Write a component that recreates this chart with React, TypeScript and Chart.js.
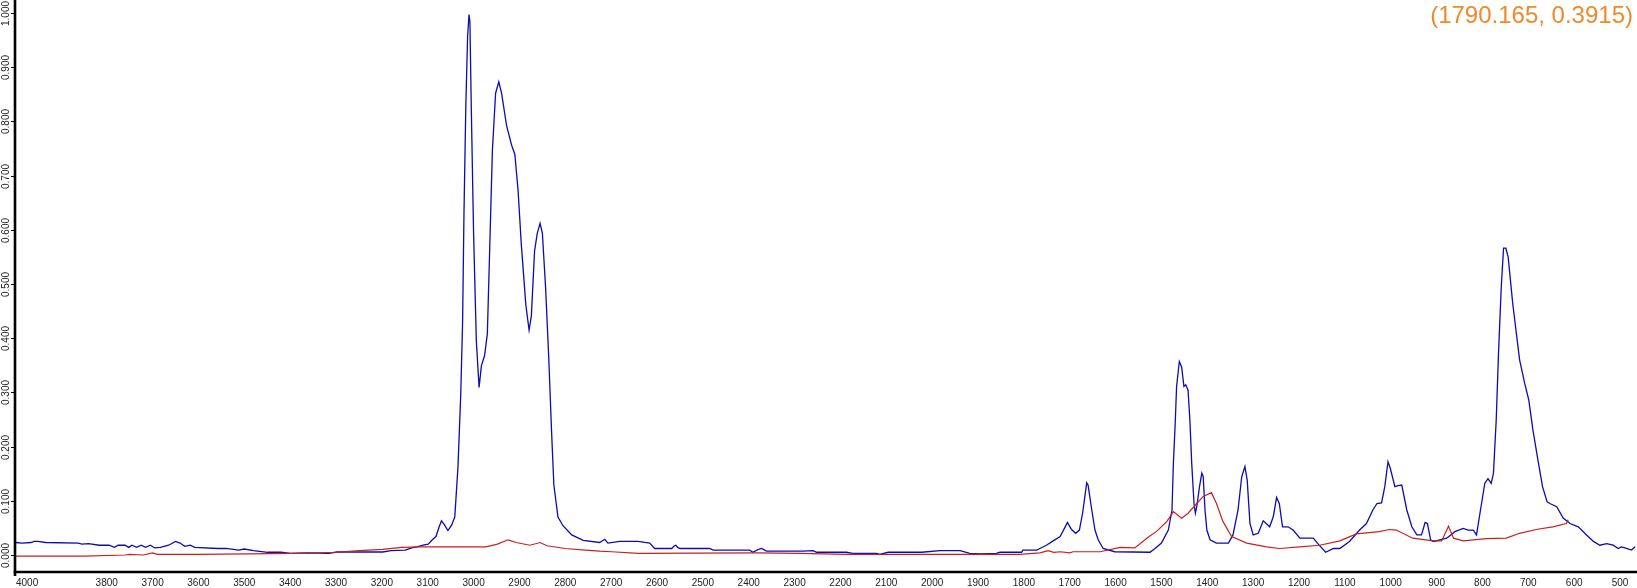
import { useEffect, useRef } from "react";
import { Chart, registerables } from "chart.js";

Chart.register(...registerables);

// Sample spectrum (blue): wavenumber (cm-1) and absorbance
const BLUE_WN = [
  3998, 3985, 3965, 3958, 3950, 3933, 3862, 3854, 3840, 3816, 3795, 3783, 3775, 3760, 3752, 3745, 3735, 3725,
  3715, 3705, 3695, 3683, 3665, 3650, 3640, 3630, 3618, 3608, 3558, 3540, 3512, 3500, 3480, 3449, 3420, 3399,
  3360, 3316, 3298, 3198, 3180, 3149, 3135, 3124, 3110, 3099, 3090, 3082, 3075, 3070, 3063, 3056, 3048, 3041,
  3034, 3028, 3024, 3021, 3017, 3013, 3010, 3008, 3005, 3000, 2994, 2988, 2983, 2976, 2970, 2965, 2959, 2952,
  2945, 2939, 2928, 2917, 2910, 2903, 2896, 2886, 2879, 2874, 2867, 2861, 2855, 2850, 2843, 2836, 2830, 2825,
  2816, 2805, 2786, 2761, 2725, 2714, 2707, 2681, 2642, 2616, 2605, 2568, 2562, 2559, 2555, 2550, 2485, 2478,
  2398, 2391, 2380, 2372, 2365, 2361, 2282, 2260, 2252, 2187, 2173, 2121, 2114, 2096, 2023, 1983, 1939, 1918,
  1895, 1860, 1852, 1805, 1802, 1772, 1765, 1751, 1736, 1721, 1711, 1705, 1696, 1687, 1679, 1672, 1663, 1660,
  1653, 1645, 1638, 1627, 1602, 1525, 1514, 1500, 1485, 1477, 1474, 1470, 1467, 1461, 1456, 1451, 1447, 1442,
  1438, 1434, 1429, 1426, 1423, 1417, 1412, 1409, 1405, 1401, 1394, 1380, 1354, 1344, 1333, 1325, 1318, 1313,
  1307, 1300, 1289, 1278, 1264, 1256, 1249, 1243, 1236, 1224, 1213, 1198, 1183, 1169, 1158, 1142, 1125, 1111,
  1090, 1068, 1053, 1039, 1030, 1020, 1013, 1006, 1001, 991, 984, 976, 965, 954, 943, 933, 925, 920, 913, 907,
  893, 878, 860, 842, 831, 820, 813, 802, 795, 788, 781, 776, 770, 765, 759, 754, 749, 744, 734, 719, 708, 699,
  690, 679, 669, 659, 653, 638, 624, 609, 591, 573, 558, 544, 529, 515, 504, 497, 486, 475, 467,
];
const BLUE_ABS = [
  0.023, 0.022, 0.023, 0.025, 0.025, 0.023, 0.022, 0.02, 0.021, 0.018, 0.018, 0.014, 0.018, 0.018, 0.014, 0.018, 0.014, 0.018,
  0.014, 0.018, 0.013, 0.014, 0.018, 0.025, 0.022, 0.016, 0.018, 0.014, 0.012, 0.012, 0.009, 0.011, 0.008, 0.005, 0.005, 0.003,
  0.004, 0.003, 0.0055, 0.0055, 0.008, 0.009, 0.013, 0.015, 0.018, 0.02, 0.028, 0.034, 0.052, 0.063, 0.055, 0.045, 0.055, 0.07,
  0.163, 0.296, 0.428, 0.627, 0.825, 0.958, 0.997, 0.984, 0.825, 0.594, 0.395, 0.309, 0.349, 0.368, 0.408, 0.56, 0.746, 0.852,
  0.873, 0.852, 0.792, 0.756, 0.739, 0.673, 0.574, 0.461, 0.415, 0.441, 0.561, 0.594, 0.612, 0.594, 0.494, 0.362, 0.229, 0.13,
  0.07, 0.054, 0.037, 0.027, 0.023, 0.029, 0.022, 0.025, 0.025, 0.022, 0.012, 0.012, 0.017, 0.018, 0.014, 0.012, 0.012, 0.009,
  0.009, 0.005, 0.01, 0.012, 0.009, 0.007, 0.007, 0.008, 0.005, 0.005, 0.003, 0.003, 0.001, 0.005, 0.005, 0.008, 0.008, 0.003,
  0.002, 0.003, 0.005, 0.005, 0.009, 0.009, 0.012, 0.018, 0.026, 0.034, 0.05, 0.06, 0.047, 0.04, 0.046, 0.077, 0.133, 0.129,
  0.089, 0.046, 0.028, 0.012, 0.006, 0.005, 0.012, 0.022, 0.046, 0.083, 0.169, 0.243, 0.311, 0.357, 0.347, 0.311, 0.314, 0.304,
  0.249, 0.169, 0.095, 0.077, 0.089, 0.126, 0.151, 0.145, 0.083, 0.046, 0.028, 0.022, 0.022, 0.037, 0.083, 0.144, 0.163, 0.138,
  0.058, 0.037, 0.04, 0.063, 0.052, 0.071, 0.106, 0.095, 0.052, 0.052, 0.046, 0.031, 0.031, 0.031, 0.02, 0.005, 0.012, 0.012,
  0.025, 0.046, 0.058, 0.083, 0.095, 0.096, 0.126, 0.172, 0.16, 0.126, 0.128, 0.129, 0.083, 0.052, 0.037, 0.037, 0.06, 0.058, 0.028, 0.025,
  0.028, 0.031, 0.043, 0.049, 0.046, 0.046, 0.037, 0.095, 0.132, 0.141, 0.132, 0.151, 0.249, 0.372, 0.495, 0.566, 0.566, 0.55, 0.464, 0.36, 0.317, 0.286,
  0.231, 0.175, 0.126, 0.098, 0.095, 0.089, 0.068, 0.058, 0.052, 0.037, 0.025, 0.018, 0.021, 0.018, 0.012, 0.015, 0.012, 0.009, 0.015,
];

// Reference spectrum (red)
const RED_WN = [
  3998, 3850, 3760, 3750, 3720, 3700, 3690, 3600, 3491, 3400, 3299, 3250, 3199, 3157, 3115, 2973, 2948, 2925,
  2907, 2877, 2855, 2840, 2800, 2756, 2725, 2699, 2641, 2383, 2289, 2187, 1809, 1765, 1747, 1735, 1720, 1700,
  1693, 1634, 1590, 1558, 1532, 1510, 1488, 1474, 1456, 1442, 1423, 1409, 1391, 1380, 1366, 1347, 1314, 1271,
  1242, 1198, 1155, 1111, 1075, 1025, 1003, 988, 952, 907, 889, 874, 863, 842, 791, 748, 719, 683, 647, 617, 613,
];
const RED_ABS = [
  -0.002, -0.002, 0.0, 0.001, 0.0, 0.004, 0.001, 0.001, 0.002, 0.003, 0.005, 0.008, 0.0105, 0.014, 0.015, 0.015, 0.02, 0.028,
  0.023, 0.018, 0.023, 0.017, 0.012, 0.009, 0.007, 0.006, 0.003, 0.004, 0.003, 0.001, 0.001, 0.004, 0.008, 0.005, 0.006, 0.004,
  0.006, 0.006, 0.014, 0.013, 0.031, 0.044, 0.062, 0.08, 0.068, 0.077, 0.095, 0.108, 0.115, 0.095, 0.062, 0.034, 0.022, 0.015,
  0.012, 0.015, 0.018, 0.026, 0.039, 0.043, 0.047, 0.046, 0.031, 0.026, 0.026, 0.053, 0.031, 0.026, 0.03, 0.031, 0.04, 0.047, 0.052, 0.058, 0.065,
];

const X_TICKS = [4000, 3800, 3700, 3600, 3500, 3400, 3300, 3200, 3100, 3000, 2900, 2800, 2700, 2600, 2500, 2400, 2300, 2200, 2100, 2000, 1900, 1800, 1700, 1600, 1500, 1400, 1300, 1200, 1100, 1000, 900, 800, 700, 600, 500];
const Y_TICKS = [0, 0.1, 0.2, 0.3, 0.4, 0.5, 0.6, 0.7, 0.8, 0.9, 1.0];
const READOUT = "(1790.165, 0.3915)";

const X_MIN = 463;
const X_MAX = 4000;
const Y_MIN = -0.0314;
const Y_MAX = 1.024;

const FONT = "'Liberation Sans', Arial, sans-serif";

const axesPlugin = {
  id: "ftirAxes",
  afterDraw(chart: any) {
    const ctx = chart.ctx as CanvasRenderingContext2D;
    const xs = chart.scales.x;
    const ys = chart.scales.y;
    const area = chart.chartArea;
    ctx.save();
    // axis lines
    ctx.strokeStyle = "#000";
    ctx.lineWidth = 2.6;
    ctx.beginPath();
    ctx.moveTo(area.left, 0);
    ctx.lineTo(area.left, area.bottom + 4);
    ctx.stroke();
    ctx.beginPath();
    ctx.moveTo(area.left - 1.3, area.bottom);
    ctx.lineTo(area.right, area.bottom);
    ctx.stroke();

    // y ticks and rotated labels
    ctx.lineWidth = 1;
    ctx.fillStyle = "#222";
    ctx.font = `10px ${FONT}`;
    for (const v of Y_TICKS) {
      const py = Math.round(ys.getPixelForValue(v)) + 0.5;
      ctx.beginPath();
      ctx.moveTo(area.left - 4, py);
      ctx.lineTo(area.left, py);
      ctx.stroke();
      ctx.save();
      ctx.translate(6, py);
      ctx.rotate(-Math.PI / 2);
      ctx.textAlign = "center";
      ctx.textBaseline = "middle";
      ctx.fillText(v.toFixed(3), 0, 0);
      ctx.restore();
    }

    // x labels
    ctx.textBaseline = "middle";
    for (const t of X_TICKS) {
      const px = xs.getPixelForValue(t);
      if (t === X_MAX) {
        ctx.textAlign = "left";
        ctx.fillText(String(t), px + 1, area.bottom + 11);
      } else {
        ctx.textAlign = "center";
        ctx.fillText(String(t), px, area.bottom + 11);
      }
    }

    // cursor readout
    ctx.fillStyle = "#ee8a2c";
    ctx.font = `24px ${FONT}`;
    ctx.textAlign = "right";
    ctx.textBaseline = "alphabetic";
    ctx.fillText(READOUT, 1633, 23);
    ctx.restore();
  },
};

export default function App() {
  const ref = useRef<HTMLCanvasElement | null>(null);

  useEffect(() => {
    document.body.style.margin = "0";
    const canvas = ref.current;
    if (!canvas) return;
    const blue = BLUE_WN.map((x, i) => ({ x, y: BLUE_ABS[i] }));
    const red = RED_WN.map((x, i) => ({ x, y: RED_ABS[i] }));
    const chart = new Chart(canvas, {
      type: "line",
      data: {
        datasets: [
          {
            label: "Sample",
            data: red,
            borderColor: "#c8201e",
            borderWidth: 1.2,
            pointRadius: 0,
            tension: 0,
            fill: false,
          },
          {
            label: "Spectrum",
            data: blue,
            borderColor: "#0c0cb0",
            borderWidth: 1.3,
            pointRadius: 0,
            tension: 0,
            fill: false,
          },
        ],
      },
      options: {
        animation: false,
        responsive: false,
        maintainAspectRatio: false,
        parsing: false as any,
        layout: { padding: { left: 15, right: 0, top: 0, bottom: 16 } },
        plugins: { legend: { display: false }, tooltip: { enabled: false } },
        scales: {
          x: { type: "linear", reverse: true, min: X_MIN, max: X_MAX, display: false },
          y: { type: "linear", min: Y_MIN, max: Y_MAX, display: false },
        },
      },
      plugins: [axesPlugin],
    });
    return () => chart.destroy();
  }, []);

  return (
    <div style={{ position: "fixed", left: 0, top: 0, width: 1637, height: 588, background: "#fff" }}>
      <canvas ref={ref} width={1637} height={588} style={{ width: 1637, height: 588, display: "block" }} />
    </div>
  );
}
